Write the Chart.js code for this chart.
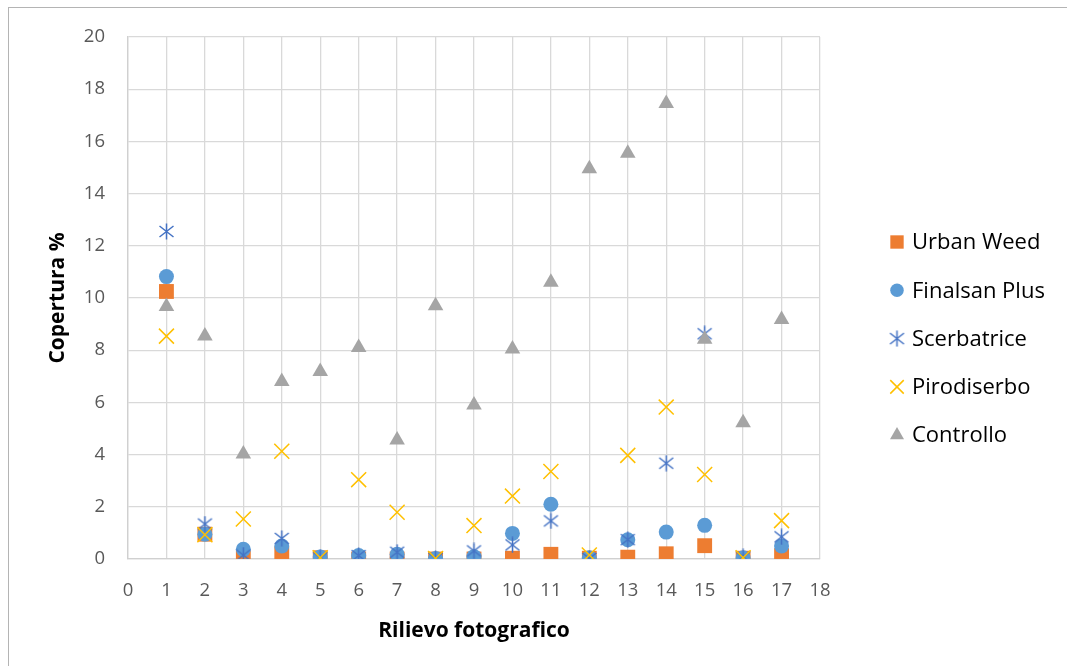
<!DOCTYPE html>
<html>
<head>
<meta charset="utf-8">
<script src="https://cdn.jsdelivr.net/npm/chart.js@4/dist/chart.umd.min.js"></script>
<style>
  html, body { margin: 0; padding: 0; background: #fff; }
  #wrap { width: 1067px; height: 666px; position: relative; }
</style>
</head>
<body>
<div id="wrap"><canvas id="chart" width="1067" height="666"></canvas></div>
<script>
// --- dati ---
const rilievi     = [1, 2, 3, 4, 5, 6, 7, 8, 9, 10, 11, 12, 13, 14, 15, 16, 17];
const urbanWeed   = [10.25, 0.95, 0.04, 0.2, 0.05, 0, 0, 0, 0, 0.03, 0.18, 0.03, 0.07, 0.2, 0.51, 0.03, 0.13];
const finalsan    = [10.82, 0.95, 0.37, 0.5, 0.08, 0.13, 0.18, 0.02, 0.09, 0.98, 2.1, 0.05, 0.74, 1.03, 1.29, 0.05, 0.5];
const scerbatrice = [12.55, 1.34, 0.15, 0.79, 0.05, 0.13, 0.26, 0.02, 0.31, 0.54, 1.46, 0.02, 0.74, 3.67, 8.63, 0.08, 0.85];
const pirodiserbo = [8.54, 0.93, 1.53, 4.13, 0.05, 3.04, 1.79, 0.02, 1.28, 2.41, 3.35, 0.15, 3.97, 5.82, 3.24, 0.05, 1.47];
const controllo   = [9.67, 8.54, 4.02, 6.8, 7.18, 8.1, 4.56, 9.7, 5.9, 8.05, 10.6, 14.95, 15.55, 17.45, 8.42, 5.22, 9.18];

const FONT = "'Open Sans', 'Noto Sans', sans-serif";

// asterisco stile Excel (X + linea verticale)
function starCanvas(size, color) {
  const c = document.createElement("canvas");
  c.width = size; c.height = size;
  const g = c.getContext("2d");
  const h = size / 2;
  g.strokeStyle = color;
  g.lineWidth = 1.5;
  g.beginPath();
  g.moveTo(h, 0.5); g.lineTo(h, size - 0.5);
  g.moveTo(1.5, 3); g.lineTo(size - 1.5, size - 3);
  g.moveTo(size - 1.5, 3); g.lineTo(1.5, size - 3);
  g.stroke();
  return c;
}

const pts = arr => arr.map((v, i) => ({ x: rilievi[i], y: v }));

const series = [
  { label: "Urban Weed",    data: pts(urbanWeed),   pointStyle: "rect",     pointRadius: 10.5, backgroundColor: "#ED7D31", borderColor: "#ED7D31", borderWidth: 0, order: 5 },
  { label: "Finalsan Plus", data: pts(finalsan),    pointStyle: "circle",   pointRadius: 7.5,  backgroundColor: "#5B9BD5", borderColor: "#5B9BD5", borderWidth: 0, order: 4 },
  { label: "Scerbatrice",   data: pts(scerbatrice), pointStyle: starCanvas(17, "#4472C4"), pointRadius: 8.5, backgroundColor: "#4472C4", borderColor: "#4472C4", borderWidth: 0, order: 3 },
  { label: "Pirodiserbo",   data: pts(pirodiserbo), pointStyle: "crossRot", pointRadius: 10.6, backgroundColor: "#FFC000", borderColor: "#FFC000", borderWidth: 1.5, order: 2 },
  { label: "Controllo",     data: pts(controllo),   pointStyle: "triangle", pointRadius: 9,    backgroundColor: "#A5A5A5", borderColor: "#A5A5A5", borderWidth: 0, order: 1 },
];

// cornice esterna + legenda disegnata a mano (posizioni fisse come in Excel)
const extras = {
  id: "extras",
  beforeDraw(chart) {
    const ctx = chart.ctx;
    ctx.save();
    ctx.fillStyle = "#fff";
    ctx.fillRect(0, 0, chart.width, chart.height);
    ctx.strokeStyle = "#b4b4b4";
    ctx.lineWidth = 1;
    ctx.strokeRect(8.5, 7.5, chart.width + 10, chart.height + 10);
    ctx.restore();
  },
  afterDraw(chart) {
    const ctx = chart.ctx;
    const x0 = 897, tx = 912, y0 = 242, step = 48.3;
    ctx.save();
    ctx.font = "22px " + FONT;
    ctx.textBaseline = "middle";
    series.forEach((s, i) => {
      const y = y0 + i * step;
      ctx.fillStyle = s.backgroundColor;
      ctx.strokeStyle = s.borderColor;
      ctx.lineWidth = s.borderWidth || 1.3;
      Chart.helpers.drawPoint(ctx, {
        pointStyle: s.pointStyle,
        radius: s.pointRadius * 0.9,
        rotation: 0,
        borderWidth: s.borderWidth
      }, x0, y);
      ctx.fillStyle = "#000";
      ctx.fillText(s.label, tx, y + 1);
    });
    ctx.restore();
  }
};

new Chart(document.getElementById("chart"), {
  type: "scatter",
  data: { datasets: series },
  options: {
    responsive: false,
    animation: false,
    layout: { padding: { top: 37, right: 247, bottom: 0, left: 0 } },
    plugins: {
      legend: { display: false },
      tooltip: { enabled: false }
    },
    scales: {
      x: {
        type: "linear",
        min: 0, max: 18,
        afterFit: s => { s.height = 107; },
        ticks: { stepSize: 1, color: "#595959", padding: 21, font: { family: FONT, size: 18.5 } },
        grid: { color: "#d9d9d9", lineWidth: 1.3, drawTicks: false },
        border: { color: "#d0d0d0", width: 1.3 },
        title: { display: true, text: "Rilievo fotografico", color: "#000", padding: { top: 0, bottom: 22.5 }, font: { family: FONT, size: 21, weight: "bold" } }
      },
      y: {
        min: 0, max: 20,
        afterFit: s => { s.width = 128; },
        ticks: { stepSize: 2, color: "#595959", padding: 23, font: { family: FONT, size: 18.5 } },
        grid: { color: "#d9d9d9", lineWidth: 1.3, drawTicks: false },
        border: { color: "#d0d0d0", width: 1.3 },
        title: { display: true, text: "Copertura %", color: "#000", padding: { top: 45.5, bottom: 0 }, font: { family: FONT, size: 21, weight: "bold" } }
      }
    }
  },
  plugins: [extras]
});
</script>
</body>
</html>
